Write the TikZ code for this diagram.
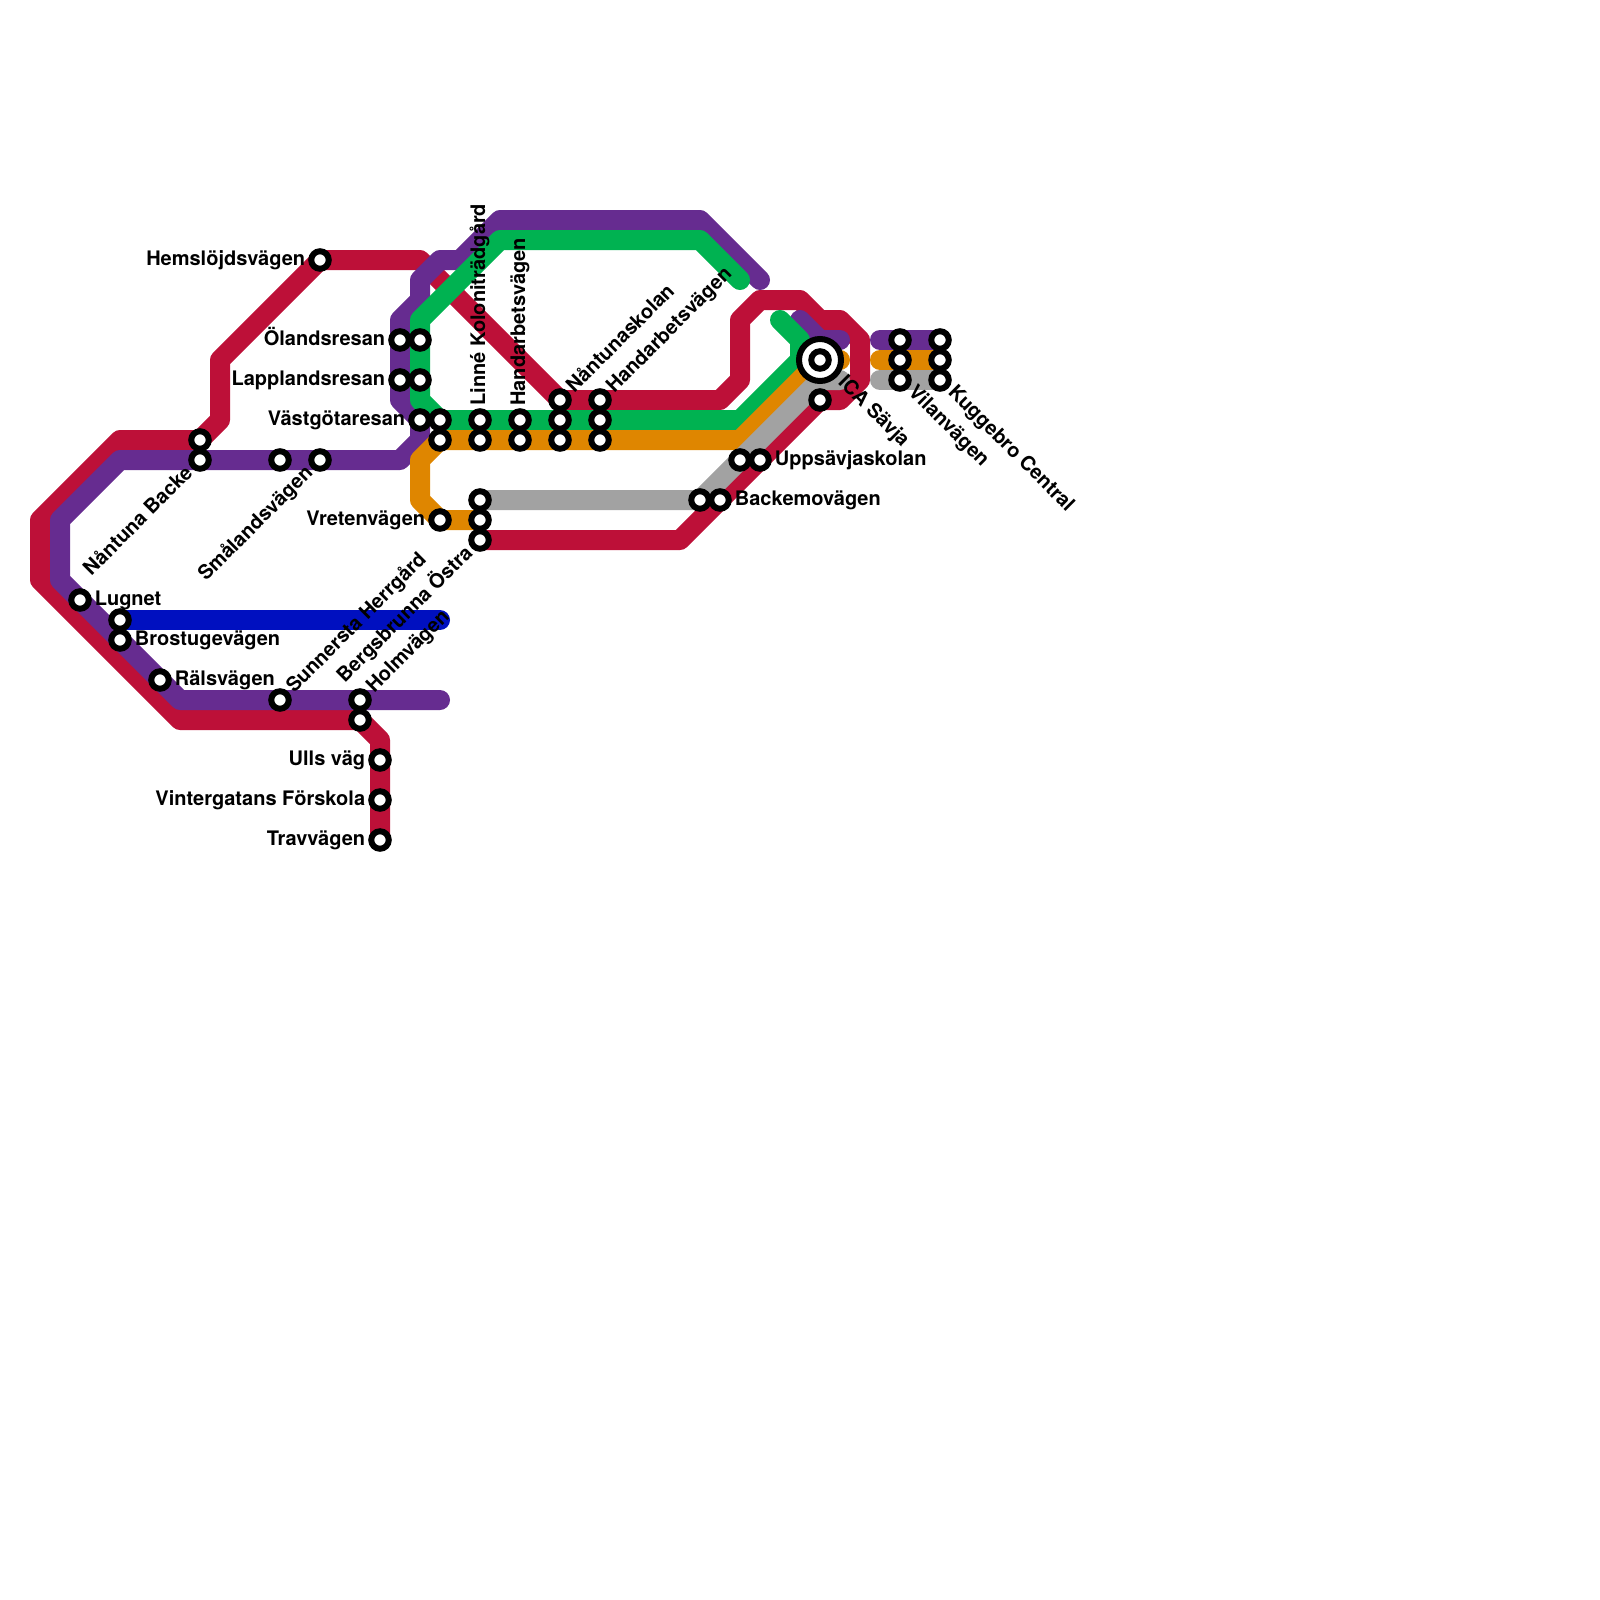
\documentclass[tikz,border=0pt]{standalone}
\usepackage{fontspec}
\setmainfont{TeX Gyre Heros}[BoldFont={* Bold}]
\definecolor{lred}{HTML}{BD1038}
\definecolor{lpurple}{HTML}{662C90}
\definecolor{lgreen}{HTML}{00B251}
\definecolor{lorange}{HTML}{DF8600}
\definecolor{lgray}{HTML}{A2A2A2}
\definecolor{lblue}{HTML}{0010C0}
\tikzset{
  metro/.style={line width=10pt,line cap=round,line join=round},
  stn/.style={circle,draw=black,fill=white,line width=3pt,minimum size=8.75pt,inner sep=0pt,outer sep=0pt},
  hub/.style={circle,draw=black,fill=white,line width=3pt,minimum size=21pt,inner sep=0pt,outer sep=0pt},
  lab/.style={font=\bfseries\fontsize{10}{12}\selectfont,inner sep=0pt,text=black},
  labE/.style={lab,anchor=base west},
  labW/.style={lab,anchor=base east},
}
\begin{document}
\begin{tikzpicture}[x=0.5pt,y=-0.5pt]
\useasboundingbox (0,0) rectangle (1600,1600);
% stations' positions
\foreach \n/\x/\y in {lugnet/80/600,bluea/120/620,brost/120/640,rals/160/680,sunn/280/700,holm/360/700,
  holmb/360/720,ulls/380/760,vint/380/800,trav/380/840,nana/200/440,nanb/200/460,smaa/280/460,smab/320/460,
  hems/320/260,olaa/400/340,olab/420/340,lapa/400/380,lapb/420/380,vasa/420/420,vasb/440/420,vasc/440/440,
  lina/480/420,linb/480/440,hana/520/420,hanb/520/440,ntaa/560/400,ntab/560/420,ntac/560/440,
  hbaa/600/400,hbab/600/420,hbac/600/440,vret/440/520,bera/480/500,berb/480/520,berc/480/540,
  baca/700/500,bacb/720/500,uppa/740/460,uppb/760/460,ica/820/360,icb/820/400,
  vila/900/340,vilb/900/360,vilc/900/380,kuga/940/340,kugb/940/360,kugc/940/380}
  {\coordinate (\n) at (\x,\y);}
% lines
\draw[metro,lred] (trav)--(380,740)--(360,720)--(180,720)--(40,580)--(40,520)--(120,440)--(200,440)--(220,420)--(220,360)--(320,260)--(420,260)--(560,400)--(720,400)--(740,380)--(740,320)--(760,300)--(800,300)--(820,320)--(840,320)--(860,340)--(860,380)--(840,400)--(820,400)--(680,540)--(berc);
\draw[metro,lpurple] (440,700)--(180,700)--(60,580)--(60,520)--(120,460)--(400,460)--(420,440)--(420,420)--(400,400)--(400,320)--(420,300)--(420,280)--(440,260)--(460,260)--(500,220)--(700,220)--(760,280);
\draw[metro,lpurple] (800,320)--(820,340)--(840,340);
\draw[metro,lpurple] (880,340)--(kuga);
\draw[metro,lgreen] (740,280)--(700,240)--(500,240)--(420,320)--(420,400)--(440,420)--(740,420)--(800,360)--(800,340)--(780,320);
\draw[metro,lorange] (berb)--(440,520)--(420,500)--(420,460)--(440,440)--(740,440)--(820,360)--(840,360);
\draw[metro,lorange] (880,360)--(kugb);
\draw[metro,lgray] (bera)--(700,500)--(820,380)--(840,380);
\draw[metro,lgray] (880,380)--(kugc);
\draw[metro,lblue] (bluea)--(440,620);
% station markers
\foreach \n in {lugnet,bluea,brost,rals,sunn,holm,holmb,ulls,vint,trav,nana,nanb,smaa,smab,hems,olaa,olab,lapa,lapb,vasa,vasb,vasc,lina,linb,hana,hanb,ntaa,ntab,ntac,hbaa,hbab,hbac,vret,bera,berb,berc,baca,bacb,uppa,uppb,icb,vila,vilb,vilc,kuga,kugb,kugc}
  {\node[stn] (st-\n) at (\n) {};}
\node[hub] (st-hub) at (ica) {};
\node[stn] (st-ica) at (ica) {};
% labels
\node[labE] (l1) at ([shift={(14.5,5)}]lugnet) {Lugnet};
\node[labE] (l2) at ([shift={(14.5,5)}]brost) {Brostugevägen};
\node[labE] (l3) at ([shift={(14.5,5)}]rals) {Rälsvägen};
\node[labE] (l4) at ([shift={(14.5,5)}]uppb) {Uppsävjaskolan};
\node[labE] (l5) at ([shift={(14.5,5)}]bacb) {Backemovägen};
\node[labW] (l6) at ([shift={(-14.5,5)}]hems) {Hemslöjdsvägen};
\node[labW] (l7) at ([shift={(-14.5,5)}]olaa) {Ölandsresan};
\node[labW] (l8) at ([shift={(-14.5,5)}]lapa) {Lapplandsresan};
\node[labW] (l9) at ([shift={(-14.5,5)}]vasa) {Västgötaresan};
\node[labW] (l10) at ([shift={(-14.5,5)}]vret) {Vretenvägen};
\node[labW] (l11) at ([shift={(-14.5,5)}]ulls) {Ulls väg};
\node[labW] (l12) at ([shift={(-14.5,5)}]vint) {Vintergatans Förskola};
\node[labW] (l13) at ([shift={(-14.5,5)}]trav) {Travvägen};
\node[labE,rotate=90] (l14) at ([shift={(5,-14)}]lina) {Linné Koloniträdgård};
\node[labE,rotate=90] (l15) at ([shift={(5,-14)}]hana) {Handarbetsvägen};
\node[labE,rotate=45] (l16) at ([shift={(14,-6)}]ntaa) {Nåntunaskolan};
\node[labE,rotate=45] (l17) at ([shift={(14,-6)}]hbaa) {Handarbetsvägen};
\node[labE,rotate=45] (l18) at ([shift={(14,-6)}]sunn) {Sunnersta Herrgård};
\node[labE,rotate=45] (l19) at ([shift={(14,-6)}]holm) {Holmvägen};
\node[labW,rotate=45] (l20) at ([shift={(-6,14)}]nanb) {Nåntuna Backe};
\node[labW,rotate=45] (l21) at ([shift={(-6,14)}]smab) {Smålandsvägen};
\node[labW,rotate=45] (l22) at ([shift={(-6,14)}]berc) {Bergsbrunna Östra};
\node[labE,rotate=-45] (l23) at ([shift={(17,23)}]ica) {ICA Sävja};
\node[labE,rotate=-45] (l24) at ([shift={(7,13)}]vilc) {Vilanvägen};
\node[labE,rotate=-45] (l25) at ([shift={(7,13)}]kugc) {Kuggebro Central};
\end{tikzpicture}
\end{document}
